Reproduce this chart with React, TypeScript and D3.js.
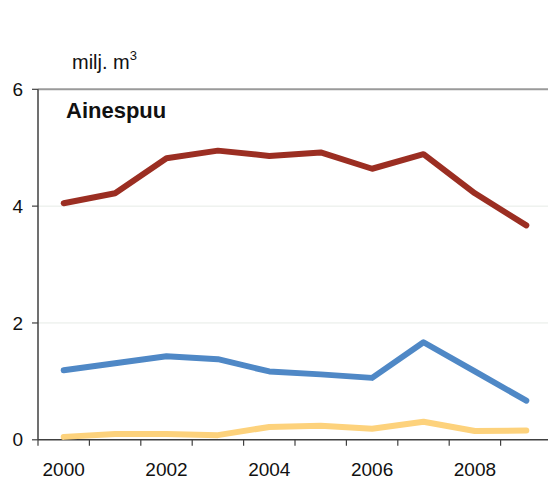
import * as d3 from 'd3';

// vuodet ja sarjat (milj. m3)
const years = ['2000', '2001', '2002', '2003', '2004', '2005', '2006', '2007', '2008', '2009'];
const labelYears = ['2000', '2002', '2004', '2006', '2008'];
const yTicks = [0, 2, 4, 6];

const seriesRed = [4.05, 4.22, 4.82, 4.95, 4.86, 4.92, 4.64, 4.89, 4.22, 3.67];
const seriesBlue = [1.19, 1.31, 1.43, 1.38, 1.17, 1.12, 1.06, 1.67, 1.17, 0.67];
const seriesYellow = [0.05, 0.1, 0.1, 0.08, 0.22, 0.24, 0.19, 0.31, 0.15, 0.16];

const colors = ['#9b2e22', '#4f88c6', '#fdd27c'];

const width = 548;
const height = 484;
const left = 38;
const step = 51.4;

function App() {
  const x = d3.scaleBand<string>().domain(years).range([left, left + step * years.length]);
  const y = d3.scaleLinear().domain([0, 6]).range([439.8, 89.3]);

  const line = d3
    .line<number>()
    .x((_, i) => (x(years[i]) ?? 0) + x.bandwidth() / 2)
    .y((d) => y(d));

  const font = "'Liberation Sans', Arial, sans-serif";

  return (
    <svg
      width={width}
      height={height}
      style={{ position: 'absolute', left: 0, top: 0, background: '#fff' }}
      fontFamily={font}
    >
      {/* gridlines */}
      {yTicks
        .filter((t) => t > 0 && t < 6)
        .map((t) => (
          <line key={t} x1={left} x2={width} y1={y(t)} y2={y(t)} stroke="#e6ebe6" strokeWidth={1} />
        ))}
      <line x1={left} x2={width} y1={y(6)} y2={y(6)} stroke="#9a9a9a" strokeWidth={2} />

      {/* y axis */}
      <line x1={left} x2={left} y1={y(6)} y2={y(0)} stroke="#404040" strokeWidth={1.5} />
      {yTicks.map((t) => (
        <g key={t}>
          <line x1={left - 6} x2={left} y1={y(t)} y2={y(t)} stroke="#404040" strokeWidth={1.2} />
          <text x={23} y={y(t)} dy="0.35em" textAnchor="end" fontSize={19} fill="#111">
            {t}
          </text>
        </g>
      ))}

      {/* x axis */}
      <line x1={left} x2={width} y1={y(0)} y2={y(0)} stroke="#404040" strokeWidth={1.5} />
      {years.map((yr) => (
        <line
          key={yr}
          x1={x(yr) ?? 0}
          x2={x(yr) ?? 0}
          y1={y(0)}
          y2={y(0) + 6}
          stroke="#404040"
          strokeWidth={1.2}
        />
      ))}
      {labelYears.map((yr) => (
        <text
          key={yr}
          x={(x(yr) ?? 0) + x.bandwidth() / 2}
          y={476}
          textAnchor="middle"
          fontSize={19}
          fill="#111"
        >
          {yr}
        </text>
      ))}

      {/* lines */}
      {[seriesRed, seriesBlue, seriesYellow].map((s, i) => (
        <path
          key={i}
          d={line(s) ?? ''}
          fill="none"
          stroke={colors[i]}
          strokeWidth={6}
          strokeLinecap="round"
          strokeLinejoin="round"
        />
      ))}

      {/* titles */}
      <text x={72} y={69} fontSize={20} fill="#111">
        milj. m<tspan fontSize={13} dy={-9}>3</tspan>
      </text>
      <text x={66} y={118} fontSize={22} fontWeight="bold" fill="#111">
        Ainespuu
      </text>
    </svg>
  );
}

export default App;
